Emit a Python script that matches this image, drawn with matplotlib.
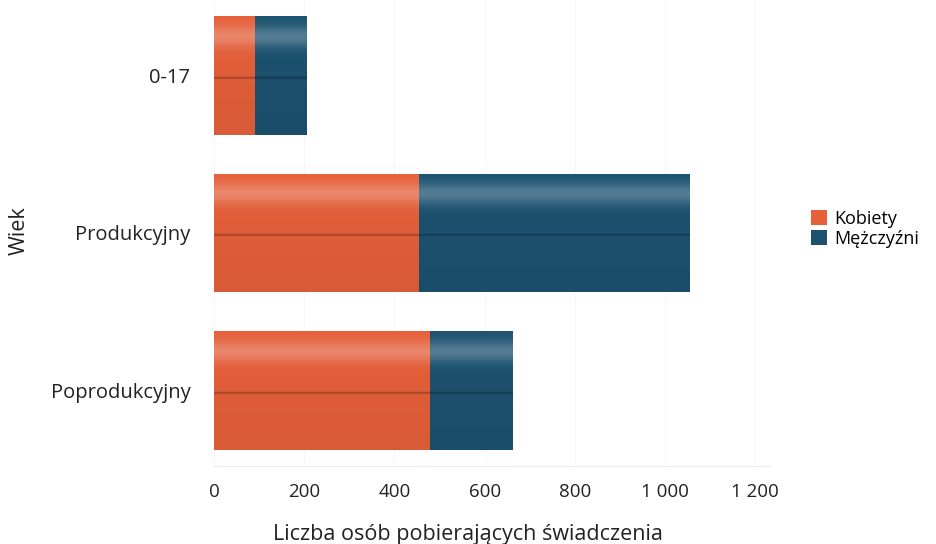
import numpy as np
import matplotlib
matplotlib.use('Agg')
import matplotlib.pyplot as plt
from matplotlib.colors import to_rgb
from matplotlib.patches import Patch
from matplotlib.ticker import FuncFormatter

plt.rcParams['font.family'] = ['Open Sans', 'DejaVu Sans']

categories = ['0-17', 'Produkcyjny', 'Poprodukcyjny']
kobiety = [90, 455, 478]
mezczyzni = [115, 600, 182]
series_names = ['Kobiety', 'Mężczyźni']
colors = ['#E6603A', '#1C5270']
x_ticks = [0, 200, 400, 600, 800, 1000, 1200]


def shade_bar(ax, patch, base):
    # glossy vertical shading like the original print
    base = np.array(to_rgb(base))
    t = np.linspace(0, 1, 200)
    light = 0.25 * np.exp(-((t - 0.17) / 0.09) ** 2)
    dark = 0.3 * np.exp(-((t - 0.52) / 0.008) ** 2)
    lower = 0.06 * t
    col = base + (1 - base) * light[:, None]
    col = col * (1 - dark[:, None] - lower[:, None])
    img = np.clip(col, 0, 1)[:, None, :]
    x0, y0 = patch.get_x(), patch.get_y()
    w, h = patch.get_width(), patch.get_height()
    im = ax.imshow(img, extent=(x0, x0 + w, y0 + h, y0), aspect='auto',
                   interpolation='bilinear', zorder=3)
    im.set_clip_path(patch)


fig = plt.figure(figsize=(9.36, 5.44), dpi=100)
ax = fig.add_axes([214 / 936, 1 - 466 / 544, 1230 * 0.451 / 936, 466 / 544])

y = np.arange(len(categories))
b1 = ax.barh(y, kobiety, height=0.753, color=colors[0], zorder=2)
b2 = ax.barh(y, mezczyzni, left=kobiety, height=0.753, color=colors[1], zorder=2)
for bars, c in zip([b1, b2], colors):
    for p in bars:
        shade_bar(ax, p, c)

ax.set_xlim(0, 1230)
ax.set_ylim(2.475, -0.475)
ax.set_yticks(y)
ax.set_yticklabels(categories, fontsize=14.5, color='#222222')
ax.set_xticks(x_ticks)
ax.xaxis.set_major_formatter(FuncFormatter(lambda v, p: '{:,}'.format(int(v)).replace(',', ' ')))
ax.tick_params(axis='x', length=0, pad=12, labelsize=13.5, labelcolor='#222222')
ax.tick_params(axis='y', length=0, pad=17)

ax.grid(axis='x', color='#f7f7f7', linewidth=0.8, zorder=0)
for s in ['top', 'right', 'left']:
    ax.spines[s].set_visible(False)
ax.spines['bottom'].set_color('#eaeaea')

ax.set_xlabel('Liczba osób pobierających świadczenia', fontsize=15.5, color='#222222')
ax.xaxis.set_label_coords(0.458, -0.125)
ax.set_ylabel('Wiek', fontsize=15.5, color='#222222')
ax.yaxis.set_label_coords(-0.332, 0.506)

handles = [Patch(facecolor=c) for c in colors]
fig.legend(handles, series_names, loc='center left', bbox_to_anchor=(0.859, 0.579),
           frameon=False, fontsize=13, handlelength=0.9, handleheight=0.9,
           handletextpad=0.4, labelspacing=0.1, borderaxespad=0)

fig.savefig('out.png', dpi=100)
